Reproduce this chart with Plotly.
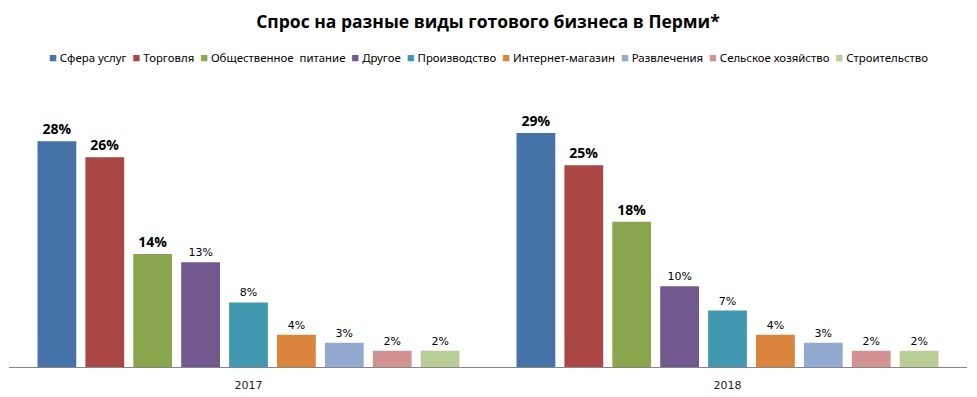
import plotly.graph_objects as go

years = ["2017", "2018"]
categories = ["Сфера услуг", "Торговля", "Общественное  питание", "Другое", "Производство",
              "Интернет-магазин", "Развлечения", "Сельское хозяйство", "Строительство"]
values_2017 = [28, 26, 14, 13, 8, 4, 3, 2, 2]
values_2018 = [29, 25, 18, 10, 7, 4, 3, 2, 2]
bold_top = 3
colors = ["#4572A7", "#AA4643", "#89A54E", "#71588F", "#4198AF",
          "#DB843D", "#93A9CF", "#D19392", "#B9CD96"]

fig = go.Figure()
for i, cat in enumerate(categories):
    vals = [values_2017[i], values_2018[i]]
    bold = i < bold_top
    texts = [f"<b>{v}%</b>" if bold else f"{v}%" for v in vals]
    fig.add_trace(go.Bar(
        x=years, y=vals, name=cat, showlegend=False,
        marker=dict(color=colors[i], line=dict(width=0)),
        text=texts, textposition="outside", cliponaxis=False,
        textfont=dict(size=14 if bold else 11, color="#000000",
                      family="Open Sans" if bold else "DejaVu Sans"),
    ))

# legend as a single text line with coloured squares
legend_parts = []
for cat, col in zip(categories, colors):
    legend_parts.append(
        f'<span style="color:{col};font-size:13px">■</span>\u00a0{cat.replace(" ", chr(160))}'
    )
legend_text = "\u00a0\u00a0".join(legend_parts)

fig.add_annotation(
    text=legend_text, xref="paper", yref="paper", x=0.5, y=1.161,
    xanchor="center", yanchor="middle", showarrow=False,
    font=dict(family="Noto Sans", size=11.4, color="#000000"),
)

fig.update_layout(
    width=977, height=397,
    margin=dict(l=1, r=18, t=92, b=38, autoexpand=False),
    paper_bgcolor="white", plot_bgcolor="white",
    barmode="group", bargap=0.10, bargroupgap=0.19,
    title=dict(text="<b>Спрос на разные виды готового бизнеса в Перми*</b>",
               x=0.5, xanchor="center", xref="paper", y=1 - 14 / 397, yanchor="middle",
               font=dict(family="Open Sans", size=17.5, color="#000000")),
    showlegend=False,
    xaxis=dict(type="category", range=[-0.5, 1.5], showgrid=False, showline=True,
               linecolor="#868686", linewidth=1, ticks="", ticklabelstandoff=8,
               tickfont=dict(family="DejaVu Sans", size=11, color="#222222")),
    yaxis=dict(range=[0, 33.1], visible=False, showgrid=False, zeroline=False),
)

fig.write_html("out.html")
